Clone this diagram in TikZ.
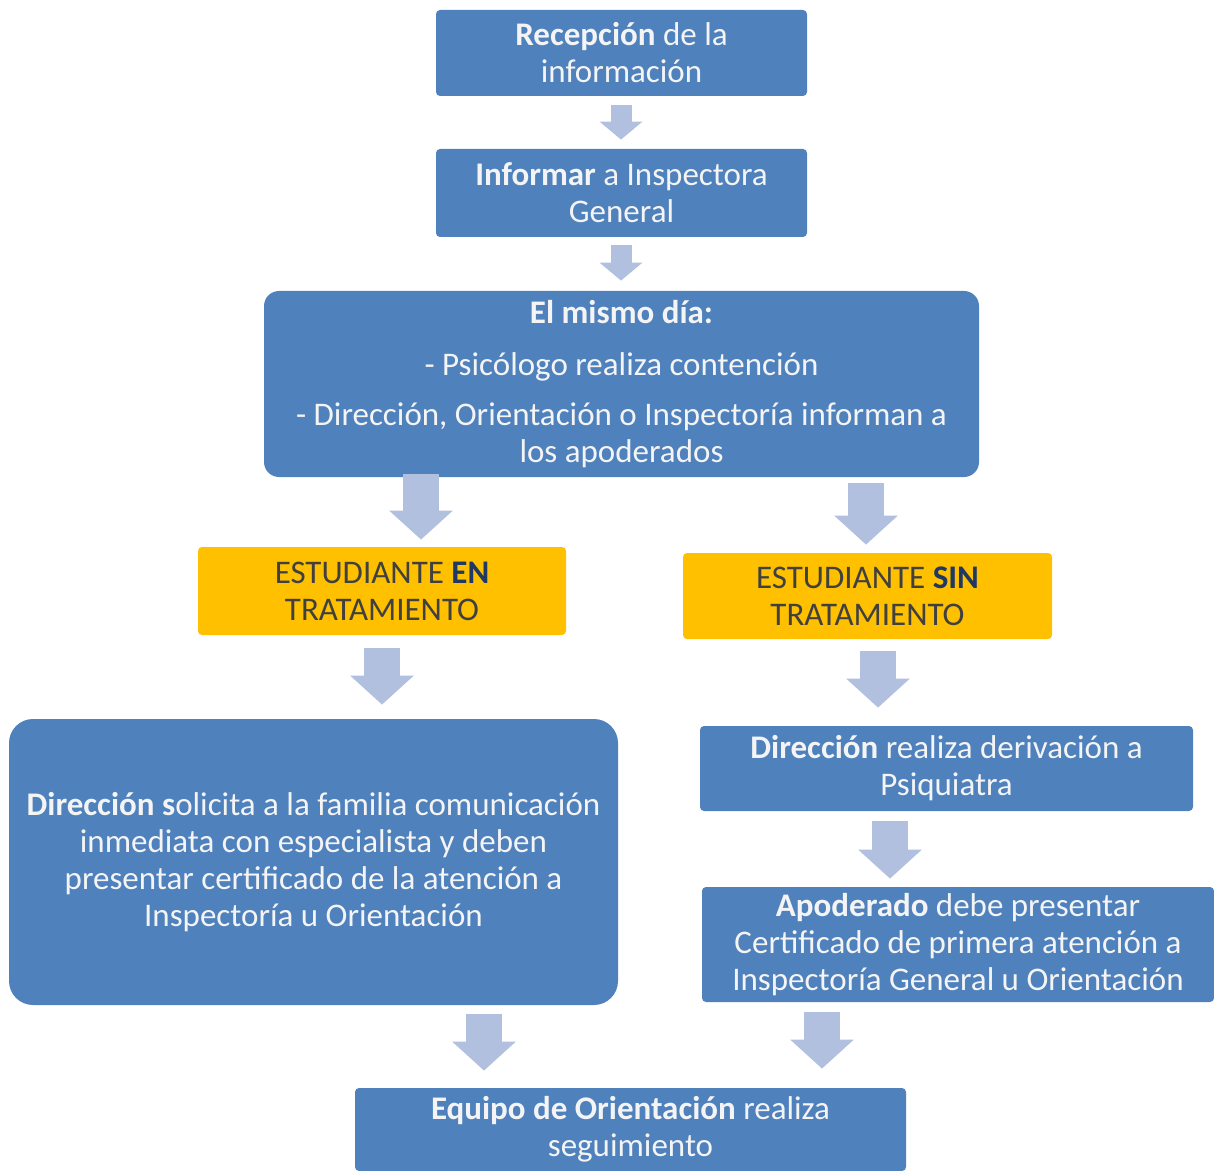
\documentclass[tikz,border=0pt]{standalone}
\usepackage{fontspec}
\setmainfont{Carlito}
\usetikzlibrary{arrows.meta}
\definecolor{boxblue}{RGB}{79,129,189}
\definecolor{boxtext}{RGB}{244,244,244}
\definecolor{boxyellow}{RGB}{255,192,0}
\definecolor{yellowtext}{RGB}{64,64,64}
\definecolor{yellowbold}{RGB}{31,56,100}
\definecolor{arrowblue}{RGB}{176,192,222}

\begin{document}
\begin{tikzpicture}[x=0.5pt, y=-0.5pt,
  box/.style={fill=boxblue, text=boxtext, rounded corners=2pt, align=center,
    inner sep=0pt, font=\fontsize{16.5pt}{18.5pt}\selectfont},
  yellowbox/.style={box, fill=boxyellow, text=yellowtext},
  smallarrow/.style={draw=arrowblue, line width=10.5pt, -{Triangle[length=9pt, width=21pt]}},
  bigarrow/.style={draw=arrowblue, line width=18pt, -{Triangle[length=14.5pt, width=31pt]}}]
  \useasboundingbox (0,0) rectangle (1214,1171);

  % Top of the chain
  \node[box, minimum width=185.5pt, minimum height=43pt] (recep) at (621.5,53)
    {\textbf{Recepción} de la\\información};
  \node[box, minimum width=185.5pt, minimum height=44pt] (informar) at (621.5,193)
    {\textbf{Informar} a Inspectora\\General};
  \node[box, rounded corners=7.5pt, minimum width=357.5pt, minimum height=93pt] (mismo) at (621.5,384)
    {\textbf{El mismo día:}\\[7.5pt]
     - Psicólogo realiza contención\\[6.5pt]
     - Dirección, Orientación o Inspectoría informan a\\los apoderados};

  % Two cases
  \node[yellowbox, minimum width=184pt, minimum height=44pt] (enl) at (382,591)
    {ESTUDIANTE \textbf{\color{yellowbold}EN}\\TRATAMIENTO};
  \node[yellowbox, minimum width=184.5pt, minimum height=43pt] (sinr) at (867.5,596)
    {ESTUDIANTE \textbf{\color{yellowbold}SIN}\\TRATAMIENTO};

  % Left branch
  \node[box, rounded corners=12pt, minimum width=304.5pt, minimum height=143pt] (dirfam) at (313.5,862)
    {\textbf{Dirección s}olicita a la familia comunicación\\
     inmediata con especialista y deben\\
     presentar certificado de la atención a\\
     Inspectoría u Orientación};

  % Right branch
  \node[box, minimum width=246.5pt, minimum height=42.5pt] (deriv) at (946.5,768.5)
    {\textbf{Dirección} realiza derivación a\\Psiquiatra};
  \node[box, minimum width=256pt, minimum height=57.5pt] (apod) at (958,944.5)
    {\textbf{Apoderado} debe presentar\\
     Certificado de primera atención a\\
     Inspectoría General u Orientación};

  % End
  \node[box, minimum width=275.5pt, minimum height=41.5pt] (equipo) at (630.5,1129.5)
    {\textbf{Equipo de Orientación} realiza\\seguimiento};

  % Arrow columns
  \coordinate (c1) at (621,0);
  \coordinate (c3l) at (421,0);
  \coordinate (c3r) at (866,0);
  \coordinate (c4l) at (382,0);
  \coordinate (c4r) at (878,0);
  \coordinate (c5r) at (890,0);
  \coordinate (c6l) at (484,0);
  \coordinate (c6r) at (822,0);

  % Arrows
  \draw[smallarrow, shorten <=4.5pt, shorten >=4.5pt] (recep.south -| c1) -- (informar.north -| c1);
  \draw[smallarrow, shorten <=4pt, shorten >=5pt] (informar.south -| c1) -- (mismo.north -| c1);
  \draw[bigarrow, shorten <=-1.5pt, shorten >=3.5pt] (mismo.south -| c3l) -- (enl.north -| c3l);
  \draw[bigarrow, shorten <=3pt, shorten >=4pt] (mismo.south -| c3r) -- (sinr.north -| c3r);
  \draw[bigarrow, shorten <=6.5pt, shorten >=7pt] (enl.south -| c4l) -- (dirfam.north -| c4l);
  \draw[bigarrow, shorten <=6pt, shorten >=9pt] (sinr.south -| c4r) -- (deriv.north -| c4r);
  \draw[bigarrow, shorten <=5pt, shorten >=4pt] (deriv.south -| c5r) -- (apod.north -| c5r);
  \draw[bigarrow, shorten <=4.5pt, shorten >=8.5pt] (dirfam.south -| c6l) -- (equipo.north -| c6l);
  \draw[bigarrow, shorten <=5pt, shorten >=9.5pt] (apod.south -| c6r) -- (equipo.north -| c6r);
\end{tikzpicture}
\end{document}
